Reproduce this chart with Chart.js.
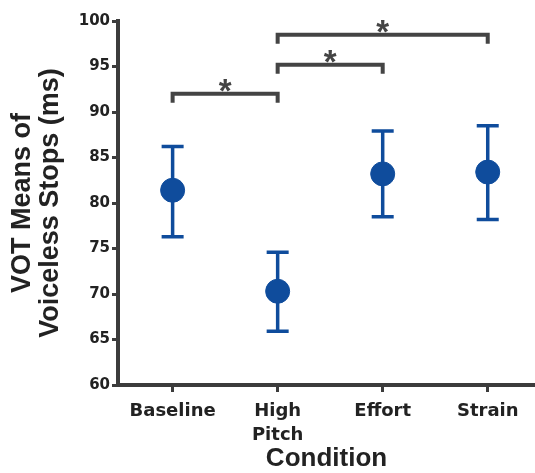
<!DOCTYPE html>
<html>
<head>
<meta charset="utf-8">
<script src="https://cdn.jsdelivr.net/npm/chart.js@4"></script>
<style>
  html, body { margin: 0; padding: 0; background: #fff; }
  #wrap { width: 535px; height: 473px; }
</style>
</head>
<body>
<div id="wrap"><canvas id="chart" width="535" height="473"></canvas></div>
<script>
// data
const conditions = ['Baseline', ['High', 'Pitch'], 'Effort', 'Strain'];
const means = [81.4, 70.3, 83.2, 83.4];
const upper = [86.2, 74.6, 87.9, 88.5];
const lower = [76.3, 65.9, 78.5, 78.2];

// significance brackets: [from, to, level]
const bracketFrom = [0, 1, 1];
const bracketTo = [1, 2, 3];
const bracketLevel = [92.0, 95.2, 98.5];

const blue = '#0f4c9c';
const axisGrey = '#3c3c3c';
const tickFont = '"DejaVu Sans", sans-serif';
const titleFont = '"Liberation Sans", Arial, sans-serif';

const errorBars = {
    id: 'errorBars',
    beforeDatasetsDraw(chart) {
        const { ctx, scales: { x, y } } = chart;
        ctx.save();
        ctx.strokeStyle = blue;
        ctx.lineWidth = 3.5;
        means.forEach((m, i) => {
            const px = x.getPixelForValue(i);
            const top = y.getPixelForValue(upper[i]);
            const bot = y.getPixelForValue(lower[i]);
            ctx.beginPath();
            ctx.moveTo(px, top); ctx.lineTo(px, bot);
            ctx.moveTo(px - 11, top); ctx.lineTo(px + 11, top);
            ctx.moveTo(px - 11, bot); ctx.lineTo(px + 11, bot);
            ctx.stroke();
        });
        ctx.restore();
    },
    afterDatasetsDraw(chart) {
        const { ctx, scales: { x, y } } = chart;
        ctx.save();
        ctx.strokeStyle = '#444';
        ctx.fillStyle = '#444';
        ctx.lineWidth = 4;
        ctx.font = 'bold 33px ' + titleFont;
        ctx.textAlign = 'center';
        ctx.textBaseline = 'middle';
        bracketLevel.forEach((lvl, i) => {
            const x1 = x.getPixelForValue(bracketFrom[i]);
            const x2 = x.getPixelForValue(bracketTo[i]);
            const py = y.getPixelForValue(lvl);
            ctx.beginPath();
            ctx.moveTo(x1, py + 9); ctx.lineTo(x1, py);
            ctx.lineTo(x2, py); ctx.lineTo(x2, py + 9);
            ctx.stroke();
            ctx.fillText('*', (x1 + x2) / 2, py - 1);
        });
        ctx.restore();
    }
};

new Chart(document.getElementById('chart'), {
    type: 'scatter',
    data: {
        datasets: [{
            data: means.map((m, i) => ({ x: i, y: m })),
            backgroundColor: blue,
            borderColor: blue,
            pointRadius: 12,
            pointHoverRadius: 12
        }]
    },
    options: {
        responsive: false,
        animation: false,
        layout: { autoPadding: false, padding: { top: 21, right: 0, left: 0, bottom: 0 } },
        plugins: { legend: { display: false }, tooltip: { enabled: false } },
        scales: {
            x: {
                type: 'linear',
                min: -0.52,
                max: 3.45,
                afterBuildTicks: s => { s.ticks = conditions.map((c, i) => ({ value: i })); },
                afterFit: s => { s.height = 88; s.paddingLeft = 0; s.paddingRight = 0; },
                border: { color: axisGrey, width: 4 },
                grid: { drawOnChartArea: false, color: axisGrey, tickLength: 7, lineWidth: 3 },
                ticks: {
                    color: '#222',
                    padding: 7,
                    maxRotation: 0,
                    font: { family: tickFont, size: 18, weight: 'bold', lineHeight: 1.35 },
                    callback: v => conditions[v]
                },
                title: {
                    display: true,
                    text: 'Condition',
                    color: '#222',
                    padding: { top: 0, bottom: 0 },
                    font: { family: titleFont, size: 26, weight: 'bold', lineHeight: 1.1 }
                }
            },
            y: {
                min: 60,
                max: 100,
                afterFit: s => { s.width = 118; },
                border: { color: axisGrey, width: 4 },
                grid: { drawOnChartArea: false, color: axisGrey, tickLength: 6, lineWidth: 3 },
                ticks: {
                    stepSize: 5,
                    color: '#222',
                    padding: 2,
                    font: { family: tickFont, size: 15, weight: 'bold' }
                },
                title: {
                    display: true,
                    text: ['VOT Means of', 'Voiceless Stops (ms)'],
                    color: '#222',
                    padding: { top: 8, bottom: 0 },
                    font: { family: titleFont, size: 27, weight: 'bold', lineHeight: 1.05 }
                }
            }
        }
    },
    plugins: [errorBars]
});
</script>
</body>
</html>
